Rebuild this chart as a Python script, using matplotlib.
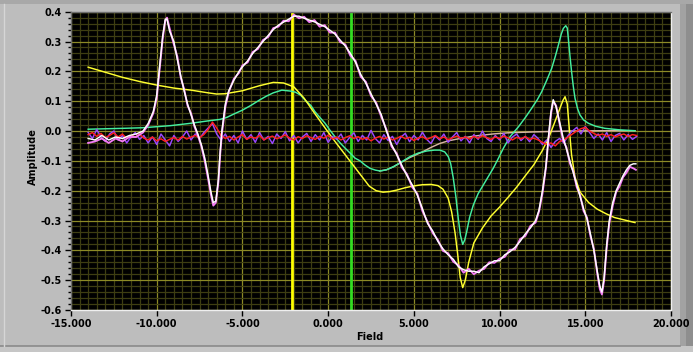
import numpy as np
import matplotlib
matplotlib.use("Agg")
import matplotlib.pyplot as plt
from matplotlib.ticker import MultipleLocator, FormatStrFormatter
from matplotlib.patches import Rectangle
from matplotlib.lines import Line2D

# ---------------- data ----------------
main_x = [-14.0, -13.6, -13.2, -12.8, -12.4, -12.0, -11.6, -11.2, -10.8, -10.5,
          -10.2, -10.0, -9.8, -9.65, -9.5, -9.4, -9.25, -9.0, -8.8, -8.6,
          -8.4, -8.2, -8.0, -7.8, -7.6, -7.4, -7.2, -7.0, -6.85, -6.7,
          -6.55, -6.4, -6.3, -6.2, -6.0, -5.8, -5.5, -5.2, -5.0, -4.7,
          -4.4, -4.1, -3.8, -3.5, -3.2, -2.9, -2.6, -2.3, -2.0, -1.7,
          -1.4, -1.1, -0.8, -0.5, -0.2, 0.1, 0.4, 0.7, 1.0, 1.3,
          1.6, 1.9, 2.2, 2.5, 2.8, 3.1, 3.4, 3.7, 4.0, 4.3,
          4.6, 4.9, 5.2, 5.5, 5.8, 6.1, 6.4, 6.7, 7.0, 7.3,
          7.6, 7.9, 8.2, 8.5, 8.8, 9.1, 9.4, 9.7, 10.0, 10.3,
          10.6, 10.9, 11.2, 11.5, 11.8, 12.1, 12.3, 12.5, 12.7, 12.85,
          13.0, 13.13, 13.3, 13.5, 13.7, 13.9, 14.1, 14.3, 14.5, 14.7,
          14.9, 15.1, 15.3, 15.5, 15.7, 15.85, 15.97, 16.1, 16.25, 16.4,
          16.6, 16.8, 17.0, 17.2, 17.4, 17.6, 17.8, 17.95]

white_y = [-0.025, -0.03, -0.015, -0.03, -0.02, -0.025, -0.015, -0.01, 0.0, 0.025,
           0.065, 0.12, 0.235, 0.32, 0.375, 0.375, 0.335, 0.3, 0.24, 0.185,
           0.135, 0.09, 0.055, 0.02, -0.01, -0.045, -0.09, -0.15, -0.2, -0.24,
           -0.235, -0.16, -0.07, 0.0, 0.09, 0.135, 0.17, 0.2, 0.215, 0.235,
           0.26, 0.28, 0.3, 0.32, 0.34, 0.355, 0.365, 0.375, 0.385, 0.385,
           0.378, 0.372, 0.366, 0.358, 0.35, 0.338, 0.325, 0.305, 0.285, 0.26,
           0.23, 0.19, 0.16, 0.125, 0.09, 0.055, 0.0, -0.045, -0.08, -0.115,
           -0.15, -0.18, -0.215, -0.26, -0.31, -0.335, -0.37, -0.395, -0.415, -0.43,
           -0.455, -0.465, -0.47, -0.47, -0.475, -0.455, -0.445, -0.435, -0.435, -0.415,
           -0.405, -0.39, -0.37, -0.345, -0.325, -0.3, -0.265, -0.2, -0.12, -0.02,
           0.065, 0.105, 0.08, 0.03, -0.02, -0.06, -0.1, -0.14, -0.18, -0.22,
           -0.26, -0.295, -0.345, -0.4, -0.47, -0.52, -0.54, -0.49, -0.38, -0.3,
           -0.24, -0.2, -0.175, -0.15, -0.13, -0.115, -0.11, -0.11]

magenta_y = [-0.04, -0.035, -0.025, -0.04, -0.025, -0.035, -0.02, -0.02, -0.005, 0.02,
             0.06, 0.11, 0.225, 0.31, 0.37, 0.38, 0.345, 0.29, 0.25, 0.18,
             0.14, 0.085, 0.06, 0.015, -0.015, -0.05, -0.1, -0.16, -0.21, -0.25,
             -0.24, -0.17, -0.08, -0.01, 0.08, 0.13, 0.175, 0.195, 0.22, 0.23,
             0.265, 0.275, 0.305, 0.315, 0.345, 0.35, 0.37, 0.368, 0.39, 0.378,
             0.383, 0.365, 0.372, 0.35, 0.355, 0.33, 0.33, 0.298, 0.29, 0.252,
             0.235, 0.182, 0.165, 0.118, 0.095, 0.048, 0.005, -0.052, -0.075, -0.122,
             -0.145, -0.188, -0.21, -0.268, -0.305, -0.342, -0.365, -0.402, -0.41, -0.438,
             -0.45, -0.475, -0.462, -0.48, -0.468, -0.462, -0.44, -0.442, -0.428, -0.422,
             -0.398, -0.397, -0.362, -0.352, -0.318, -0.307, -0.27, -0.21, -0.125, -0.03,
             0.058, 0.1, 0.085, 0.025, -0.03, -0.055, -0.108, -0.135, -0.188, -0.215,
             -0.268, -0.29, -0.352, -0.395, -0.478, -0.53, -0.548, -0.5, -0.39, -0.31,
             -0.25, -0.205, -0.185, -0.155, -0.14, -0.12, -0.125, -0.13]

yellow_x = [-14, -13, -12, -11, -10, -9, -8, -7, -6.5, -6, -5, -4, -3.2, -2.6, -2.0,
            -1.4, -0.8, -0.2, 0.4, 1.0, 1.6, 2.0, 2.4, 2.8, 3.2, 3.6, 4.0, 4.5, 5.0,
            5.5, 6.0, 6.4, 6.7, 7.0, 7.2, 7.4, 7.55, 7.7, 7.85, 8.0, 8.2, 8.5, 9.0,
            9.5, 10.0, 10.5, 11.0, 11.5, 12.0, 12.5, 12.9, 13.2, 13.5, 13.7, 13.82,
            13.95, 14.05, 14.2, 14.4, 14.7, 15.2, 15.7, 16.2, 16.7, 17.2, 17.9]
yellow_y = [0.214, 0.197, 0.18, 0.166, 0.154, 0.144, 0.137, 0.128, 0.124, 0.125, 0.135,
            0.152, 0.163, 0.161, 0.148, 0.11, 0.06, 0.012, -0.035, -0.08, -0.125,
            -0.155, -0.185, -0.2, -0.205, -0.203, -0.198, -0.19, -0.184, -0.18, -0.179,
            -0.183, -0.195, -0.225, -0.27, -0.34, -0.41, -0.49, -0.525, -0.5, -0.44,
            -0.375, -0.325, -0.285, -0.255, -0.222, -0.188, -0.15, -0.113, -0.065,
            -0.018, 0.027, 0.073, 0.103, 0.115, 0.09, 0.02, -0.08, -0.155, -0.205,
            -0.24, -0.262, -0.277, -0.29, -0.297, -0.307]

aqua_x = [-14, -12, -10.8, -9.2, -8, -7, -6.3, -5.9, -5.5, -5, -4.5, -4, -3.6, -3.2,
          -2.7, -2.2, -1.9, -1.6, -1.35, -1.0, -0.77, -0.4, -0.18, 0.1, 0.4, 0.7, 1.0,
          1.3, 1.57, 1.86, 2.15, 2.44, 2.75, 3.03, 3.4, 3.8, 4.3, 4.77, 5.25, 5.75,
          6.2, 6.52, 6.8, 7.01, 7.15, 7.3, 7.45, 7.59, 7.72, 7.85, 7.97, 8.08, 8.25,
          8.47, 8.75, 9.05, 9.35, 9.63, 9.9, 10.22, 10.61, 11.1, 11.5, 11.87, 12.2,
          12.46, 12.75, 13.04, 13.25, 13.43, 13.6, 13.72, 13.86, 13.95, 14.01, 14.1,
          14.2, 14.3, 14.4, 14.55, 14.69, 14.9, 15.18, 15.6, 16.15, 17.0, 17.9]
aqua_y = [0.006, 0.009, 0.011, 0.018, 0.026, 0.034, 0.039, 0.046, 0.057, 0.07, 0.086,
          0.104, 0.117, 0.128, 0.137, 0.134, 0.13, 0.12, 0.104, 0.085, 0.065, 0.04,
          0.026, 0.003, -0.019, -0.04, -0.058, -0.075, -0.091, -0.1, -0.114, -0.125,
          -0.131, -0.134, -0.13, -0.12, -0.103, -0.086, -0.074, -0.067, -0.064, -0.064,
          -0.07, -0.086, -0.11, -0.158, -0.22, -0.293, -0.35, -0.38, -0.365, -0.338,
          -0.29, -0.248, -0.21, -0.181, -0.152, -0.125, -0.095, -0.058, -0.019, 0.014,
          0.045, 0.076, 0.105, 0.132, 0.17, 0.21, 0.25, 0.288, 0.325, 0.344, 0.353,
          0.345, 0.311, 0.255, 0.199, 0.15, 0.11, 0.075, 0.054, 0.037, 0.026, 0.016,
          0.009, 0.004, 0.001]

tan_x = [3.0, 3.4, 3.8, 4.2, 4.8, 5.5, 6.0, 6.5, 7.0, 7.7, 8.5, 9.6, 10.5, 12.0,
         14.0, 16.0, 17.9]
tan_y = [-0.134, -0.13, -0.12, -0.107, -0.088, -0.07, -0.055, -0.042, -0.033, -0.025,
         -0.017, -0.01, -0.006, -0.003, 0.0, 0.001, 0.001]

red_y = [-0.012, -0.005, -0.018, -0.008, -0.022, -0.015, -0.006, -0.02, -0.01, -0.025,
         -0.015, -0.02, -0.01,
         -0.024, -0.03, -0.02, -0.033, -0.026, -0.035, -0.028, -0.022, -0.03, -0.018,
         -0.027, -0.02, -0.015, -0.022,
         -0.012, 0.005, 0.03, 0.01, -0.015,
         -0.025, -0.018, -0.03, -0.02, -0.012, -0.028, -0.02, -0.024, -0.015, -0.03,
         -0.022, -0.017, -0.026, -0.02, -0.013, -0.024, -0.03, -0.019, -0.025, -0.016,
         -0.022, -0.028, -0.018, -0.024, -0.014, -0.027, -0.02, -0.03, -0.022, -0.016,
         -0.025, -0.019, -0.028, -0.022, -0.033, -0.024, -0.018, -0.027, -0.02, -0.03,
         -0.025, -0.017, -0.026, -0.021, -0.032, -0.024, -0.019, -0.028, -0.022, -0.015,
         -0.026, -0.02, -0.029, -0.023, -0.017, -0.025, -0.02, -0.027, -0.018, -0.024,
         -0.016, -0.022, -0.028, -0.02, -0.025, -0.017, -0.023, -0.03, -0.021, -0.026,
         -0.019, -0.028, -0.024,
         -0.03, -0.038, -0.045, -0.04, -0.05, -0.035, -0.03, -0.02,
         -0.01, 0.0, 0.008, 0.012, 0.0, -0.008, -0.015,
         -0.01, -0.018, -0.012, -0.02, -0.014, -0.01, -0.018, -0.012, -0.015]

purple_y = [-0.005, -0.025, 0.005, -0.02, -0.035, -0.01, 0.0, -0.03, -0.015, -0.04,
            -0.02, -0.005, -0.028,
            -0.015, -0.04, -0.02, -0.045, -0.01, -0.03, -0.05, -0.015, -0.035, -0.02,
            0.0, -0.03, -0.01, -0.025,
            -0.005, 0.01, 0.025, -0.01, -0.03,
            -0.01, -0.035, -0.015, -0.04, 0.0, -0.028, -0.012, -0.038, -0.005, -0.03,
            -0.018, -0.042, -0.01, -0.025, -0.002, -0.033, -0.015, -0.04, -0.02, -0.008,
            -0.035, -0.012, -0.03, -0.005, -0.038, -0.018, -0.028, -0.01, -0.04, -0.022,
            -0.006, -0.035, -0.015, -0.03, 0.002, -0.025, -0.04, -0.012, -0.032, -0.018,
            -0.045, -0.02, -0.008, -0.036, -0.015, -0.03, -0.004, -0.028, -0.042, -0.016,
            -0.03, -0.01, -0.038, -0.02, -0.005, -0.033, -0.018, -0.04, -0.012, -0.028,
            0.0, -0.025, -0.035, -0.015, -0.03, -0.008, -0.04, -0.02, -0.01, -0.032,
            -0.018, -0.036, -0.012,
            -0.025, -0.045, -0.03, -0.055, -0.035, -0.025, -0.04, -0.015,
            0.0, 0.012, -0.01, 0.015, -0.005, -0.025, -0.01,
            -0.03, -0.005, -0.035, -0.015, -0.008, -0.03, -0.012, -0.028, -0.018]

noise_start, noise_end = -14.0, 18.0
cursor_yellow_x = -2.1
cursor_green_x = 1.33

x_ticks = [-15, -10, -5, 0, 5, 10, 15, 20]
y_ticks = [0.4, 0.3, 0.2, 0.1, 0.0, -0.1, -0.2, -0.3, -0.4, -0.5, -0.6]

# ---------------- figure ----------------
W, H = 693, 352
fig = plt.figure(figsize=(W / 100, H / 100), dpi=100)
fig.patch.set_facecolor("#b9b9b9")

# panel decorations (LabVIEW style frame)
fig.add_artist(Rectangle((0, 0), 1, 1, transform=fig.transFigure,
                         facecolor="#bdbdbd", edgecolor="none", zorder=-10))
fig.add_artist(Rectangle((680 / W, 0), 13 / W, 1, transform=fig.transFigure,
                         facecolor="#a2a2a2", edgecolor="none", zorder=-9))
fig.add_artist(Rectangle((686 / W, 0), 7 / W, 1, transform=fig.transFigure,
                         facecolor="#8e8e8e", edgecolor="none", zorder=-9))
fig.add_artist(Rectangle((0, 0), 1, 6 / H, transform=fig.transFigure,
                         facecolor="#c6c6c6", edgecolor="none", zorder=-8))
fig.add_artist(Line2D([0, 680 / W], [1 - 346 / H, 1 - 346 / H], transform=fig.transFigure,
                      color="#8a8a8a", lw=1.2, zorder=-7))
fig.add_artist(Rectangle((0, 1 - 4 / H), 1, 4 / H, transform=fig.transFigure,
                         facecolor="#a8a8a8", edgecolor="none", zorder=-8))
fig.add_artist(Line2D([4 / W, 4 / W], [6 / H, 1 - 4 / H], transform=fig.transFigure,
                      color="#d6d6d6", lw=1.0, zorder=-7))

ax = fig.add_axes([71 / W, 1 - 310 / H, 600 / W, 298.3 / H])
ax.set_facecolor("#000000")
ax.set_xlim(-15, 20)
ax.set_ylim(-0.6, 0.4)

# grid
ax.xaxis.set_major_locator(MultipleLocator(5))
ax.xaxis.set_minor_locator(MultipleLocator(0.5))
ax.yaxis.set_major_locator(MultipleLocator(0.1))
ax.yaxis.set_minor_locator(MultipleLocator(0.02))
ax.set_axisbelow(True)
ax.grid(which="minor", color="#3e3e12", lw=0.9)
ax.grid(which="major", color="#8c8a26", lw=0.9)

ax.xaxis.set_major_formatter(FormatStrFormatter("%.3f"))
ax.yaxis.set_major_formatter(FormatStrFormatter("%.1f"))
ax.set_xticks(x_ticks)
ax.set_yticks(y_ticks)
ax.tick_params(axis="both", which="major", direction="out", length=4, width=1,
               color="black", labelsize=7, pad=2.5)
ax.tick_params(axis="y", which="minor", direction="out", length=2.5, width=1, color="black")
ax.tick_params(axis="x", which="minor", length=0)
for lab in ax.get_xticklabels() + ax.get_yticklabels():
    lab.set_fontweight("bold")
    lab.set_color("black")

for side, col in (("left", "#6e6e6e"), ("top", "#6e6e6e"),
                  ("bottom", "#efefef"), ("right", "#efefef")):
    ax.spines[side].set_color(col)
    ax.spines[side].set_linewidth(1.0)

# cursors
ax.axvline(cursor_yellow_x, color="#ffff00", lw=2.0, zorder=2)
ax.axvline(cursor_green_x, color="#33dd22", lw=2.0, zorder=2)

# curves
lw = 1.05
red_x = np.linspace(noise_start, noise_end, len(red_y))
purple_x = np.linspace(noise_start, noise_end, len(purple_y))
ax.plot(tan_x, tan_y, color="#d6b4a4", lw=lw, zorder=3)
ax.plot(aqua_x, aqua_y, color="#44eea0", lw=lw, zorder=4)
ax.plot(yellow_x, yellow_y, color="#ffff30", lw=lw, zorder=5)
ax.plot(purple_x, purple_y, color="#9a48ff", lw=lw, zorder=6)
ax.plot(red_x, red_y, color="#ff2020", lw=lw, zorder=7)
ax.plot(main_x, magenta_y, color="#f47cf4", lw=lw + 0.3, zorder=8)
ax.plot(main_x, white_y, color="#ffffff", lw=lw, zorder=9)

# axis titles
fig.text(33 / W, 1 - 157 / H, "Amplitude", rotation=90, ha="center", va="center",
         fontsize=7, fontweight="bold", color="black")
fig.text(370 / W, 1 - 337 / H, "Field", ha="center", va="center",
         fontsize=7, fontweight="bold", color="black")

fig.savefig("out.png", dpi=100, facecolor=fig.get_facecolor())
